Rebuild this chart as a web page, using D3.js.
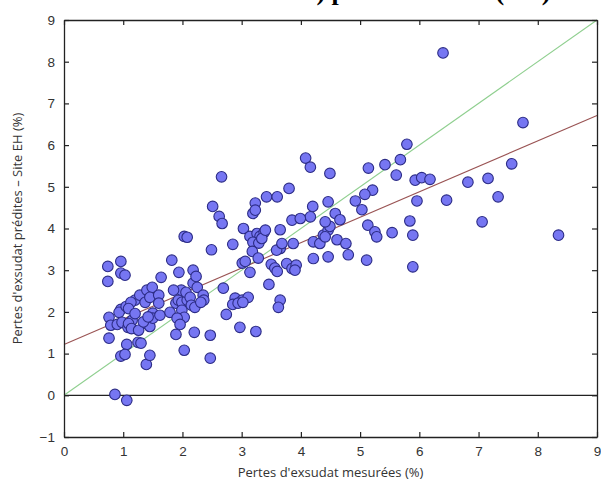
<!DOCTYPE html>
<html>
<head>
<meta charset="utf-8">
<style>
  body { margin: 0; background: #fff; }
  svg { display: block; }
</style>
</head>
<body>
<svg id="chart"></svg>
<script src="https://cdn.jsdelivr.net/npm/d3@7"></script>
<script>

var measured = [
  0.74, 0.74, 0.96, 0.96, 1.03, 0.76, 0.79, 0.90, 0.76, 0.96, 0.93, 1.05, 0.98, 1.08, 1.06, 0.96, 1.03, 0.86, 1.06, 1.15, 1.20, 1.13,
  1.25, 1.30, 1.37, 1.45, 1.39, 1.45, 1.28, 1.37, 1.40, 1.49, 1.45, 1.50, 1.50, 1.62, 1.60, 1.60, 1.64, 1.79, 1.82, 1.94, 1.89, 1.93,
  1.99, 2.08, 1.99, 2.03, 1.91, 1.96, 1.89, 2.03, 1.98, 2.06, 2.13, 2.15, 2.21, 2.18, 2.25, 2.18, 2.23, 2.20, 2.03, 2.08,
  1.09, 1.20, 1.09, 1.14, 1.26, 1.34, 1.42, 1.85,
  2.35, 2.36, 2.31, 2.49, 2.47, 2.47, 2.51, 2.62, 2.67, 2.69, 2.74, 2.85, 2.89, 3.01, 2.85, 2.94, 3.11, 3.02, 2.97, 3.03,
  3.14, 3.26, 3.31, 3.38, 3.19, 3.29, 3.18, 3.28, 3.01, 3.06, 3.14, 3.24, 3.23, 3.19, 3.23, 3.42, 3.60, 3.50, 3.56, 3.60,
  3.46, 2.66, 3.80, 4.08, 4.16, 4.20, 4.46, 4.49, 4.16, 3.85, 3.99, 3.65, 3.65, 3.59, 3.68, 3.87, 4.21, 4.32, 4.38, 4.46,
  4.46, 4.21, 3.76, 3.85, 3.92, 3.90, 3.65, 3.62, 3.34, 3.40,
  5.79, 5.68, 5.42, 5.14, 5.61, 5.93, 6.04, 6.18, 5.21, 5.08, 4.92, 5.03, 5.96, 6.46, 4.58, 4.66, 4.49, 4.41, 5.13, 5.25,
  5.28, 5.54, 5.84, 5.89, 4.61, 4.76, 4.80, 5.11, 5.89, 4.41,
  6.40, 7.75, 7.56, 7.16, 6.82, 7.33, 7.06, 8.35
];
var predicted = [
  3.09, 2.73, 3.21, 2.93, 2.88, 1.87, 1.68, 1.70, 1.37, 2.06, 1.99, 2.13, 1.75, 1.63, 1.22, 0.94, 0.98, 0.02, -0.12, 1.80, 2.28, 2.23,
  1.27, 1.25, 1.73, 1.65, 0.74, 0.96, 2.40, 2.23, 2.52, 2.59, 2.35, 1.97, 1.85, 1.92, 2.40, 2.21, 2.83, 1.99, 3.24, 2.95, 2.21, 2.28,
  2.23, 2.28, 2.04, 1.87, 1.85, 1.70, 1.46, 1.08, 2.52, 2.47, 2.35, 2.16, 2.11, 2.69, 2.59, 3.00, 2.85, 1.51, 3.81, 3.79,
  2.08, 1.96, 1.72, 1.60, 1.56, 1.76, 1.88, 2.52,
  2.40, 2.28, 2.23, 3.49, 1.44, 0.89, 4.53, 4.29, 4.12, 2.57, 1.94, 3.62, 2.33, 2.28, 2.18, 2.21, 2.35, 2.23, 1.63, 4.00,
  3.81, 3.88, 3.81, 3.91, 3.67, 3.65, 3.45, 3.29, 3.17, 3.21, 2.95, 1.53, 4.61, 4.36, 4.44, 4.76, 4.76, 3.14, 3.05, 2.97,
  2.66, 5.24, 4.96, 5.69, 5.47, 4.53, 4.64, 5.32, 4.28, 4.20, 4.24, 3.97, 3.52, 3.48, 3.64, 3.64, 3.68, 3.64, 3.84, 3.96,
  3.32, 3.28, 3.16, 3.04, 3.12, 3.00, 2.28, 2.11, 3.76, 3.96,
  6.02, 5.65, 5.53, 5.45, 5.28, 5.16, 5.22, 5.18, 4.92, 4.82, 4.66, 4.45, 4.66, 4.68, 4.36, 4.21, 4.05, 4.16, 4.08, 3.92,
  3.80, 3.90, 4.18, 3.84, 3.73, 3.64, 3.37, 3.24, 3.08, 3.80,
  8.21, 6.54, 5.55, 5.20, 5.11, 4.76, 4.16, 3.84
];

// fitted regression line and 1:1 line (end points)
var fitLine = [[0, 1.22], [9, 6.71]];
var identityLine = [[0, 0], [9, 9]];

var xTicks = [0, 1, 2, 3, 4, 5, 6, 7, 8, 9];
var yTicks = [-1, 0, 1, 2, 3, 4, 5, 6, 7, 8, 9];

var svg = d3.select('#chart')
    .attr('width', 601)
    .attr('height', 489);

var margin = {top: 20, right: 4, bottom: 52, left: 64},
    width = 601 - margin.left - margin.right,
    height = 489 - margin.top - margin.bottom;

var g = svg.append('g')
    .attr('transform', 'translate(' + margin.left + ',' + margin.top + ')');

var x = d3.scaleLinear().domain([0, 9]).range([0, width]);
var y = d3.scaleLinear().domain([-1, 9]).range([height, 0]);

// title, cropped by the top edge: only the descenders show
svg.append('text')
    .attr('x', 302)
    .attr('y', 0)
    .style('font-family', 'Liberation Serif, Times New Roman, serif')
    .style('font-weight', 'bold')
    .style('font-size', '26px')
    .style('fill', '#000')
    .text('b) prédites – Site (EH)');

var line = d3.line()
    .x(function(d) { return x(d[0]); })
    .y(function(d) { return y(d[1]); });

// zero line
g.append('path')
    .datum([[0, 0], [9, 0]])
    .attr('d', line)
    .style('stroke', '#222')
    .style('stroke-width', 1.2)
    .style('fill', 'none');

g.append('path')
    .datum(identityLine)
    .attr('d', line)
    .style('stroke', '#8fcf8f')
    .style('stroke-width', 1.1)
    .style('fill', 'none');

g.append('path')
    .datum(fitLine)
    .attr('d', line)
    .style('stroke', '#9a5454')
    .style('stroke-width', 1.1)
    .style('fill', 'none');

g.selectAll('.pt')
    .data(measured)
    .enter().append('circle')
    .attr('class', 'pt')
    .attr('cx', function(d) { return x(d); })
    .attr('cy', function(d, i) { return y(predicted[i]); })
    .attr('r', 5.3)
    .style('fill', '#7676f2')
    .style('stroke', '#2c2c86')
    .style('stroke-width', 1.1);

// axes, MATLAB-like box with inward ticks
var tickFont = 'Liberation Sans, Arial, sans-serif';

var xAxis = g.append('g')
    .attr('transform', 'translate(0,' + height + ')')
    .call(d3.axisBottom(x).tickValues(xTicks).tickSizeInner(-5).tickSizeOuter(0).tickPadding(9));

var xTop = g.append('g')
    .call(d3.axisTop(x).tickValues(xTicks).tickSizeInner(-5).tickSizeOuter(0).tickFormat(''));

var yAxis = g.append('g')
    .call(d3.axisLeft(y).tickValues(yTicks).tickSizeInner(-5).tickSizeOuter(0).tickPadding(9));

var yRight = g.append('g')
    .attr('transform', 'translate(' + width + ',0)')
    .call(d3.axisRight(y).tickValues(yTicks).tickSizeInner(-5).tickSizeOuter(0).tickFormat(''));

[xAxis, xTop, yAxis, yRight].forEach(function(a) {
    a.select('.domain').style('stroke', '#222').style('stroke-width', 1.3);
    a.selectAll('.tick line').style('stroke', '#222').style('stroke-width', 1.2);
    a.selectAll('.tick text')
        .style('font-family', tickFont)
        .style('font-size', '13.5px')
        .style('fill', '#333');
});

// axis titles
svg.append('text')
    .attr('x', margin.left + width / 2)
    .attr('y', 477)
    .attr('text-anchor', 'middle')
    .style('font-family', 'Open Sans, sans-serif')
    .style('font-size', '13px')
    .style('fill', '#333')
    .text("Pertes d'exsudat mesurées (%)");

svg.append('text')
    .attr('transform', 'translate(22,' + (margin.top + height / 2) + ') rotate(-90)')
    .attr('text-anchor', 'middle')
    .style('font-family', 'Open Sans, sans-serif')
    .style('font-size', '13px')
    .style('fill', '#333')
    .text("Pertes d'exsudat prédites – Site EH (%)");

</script>
</body>
</html>
